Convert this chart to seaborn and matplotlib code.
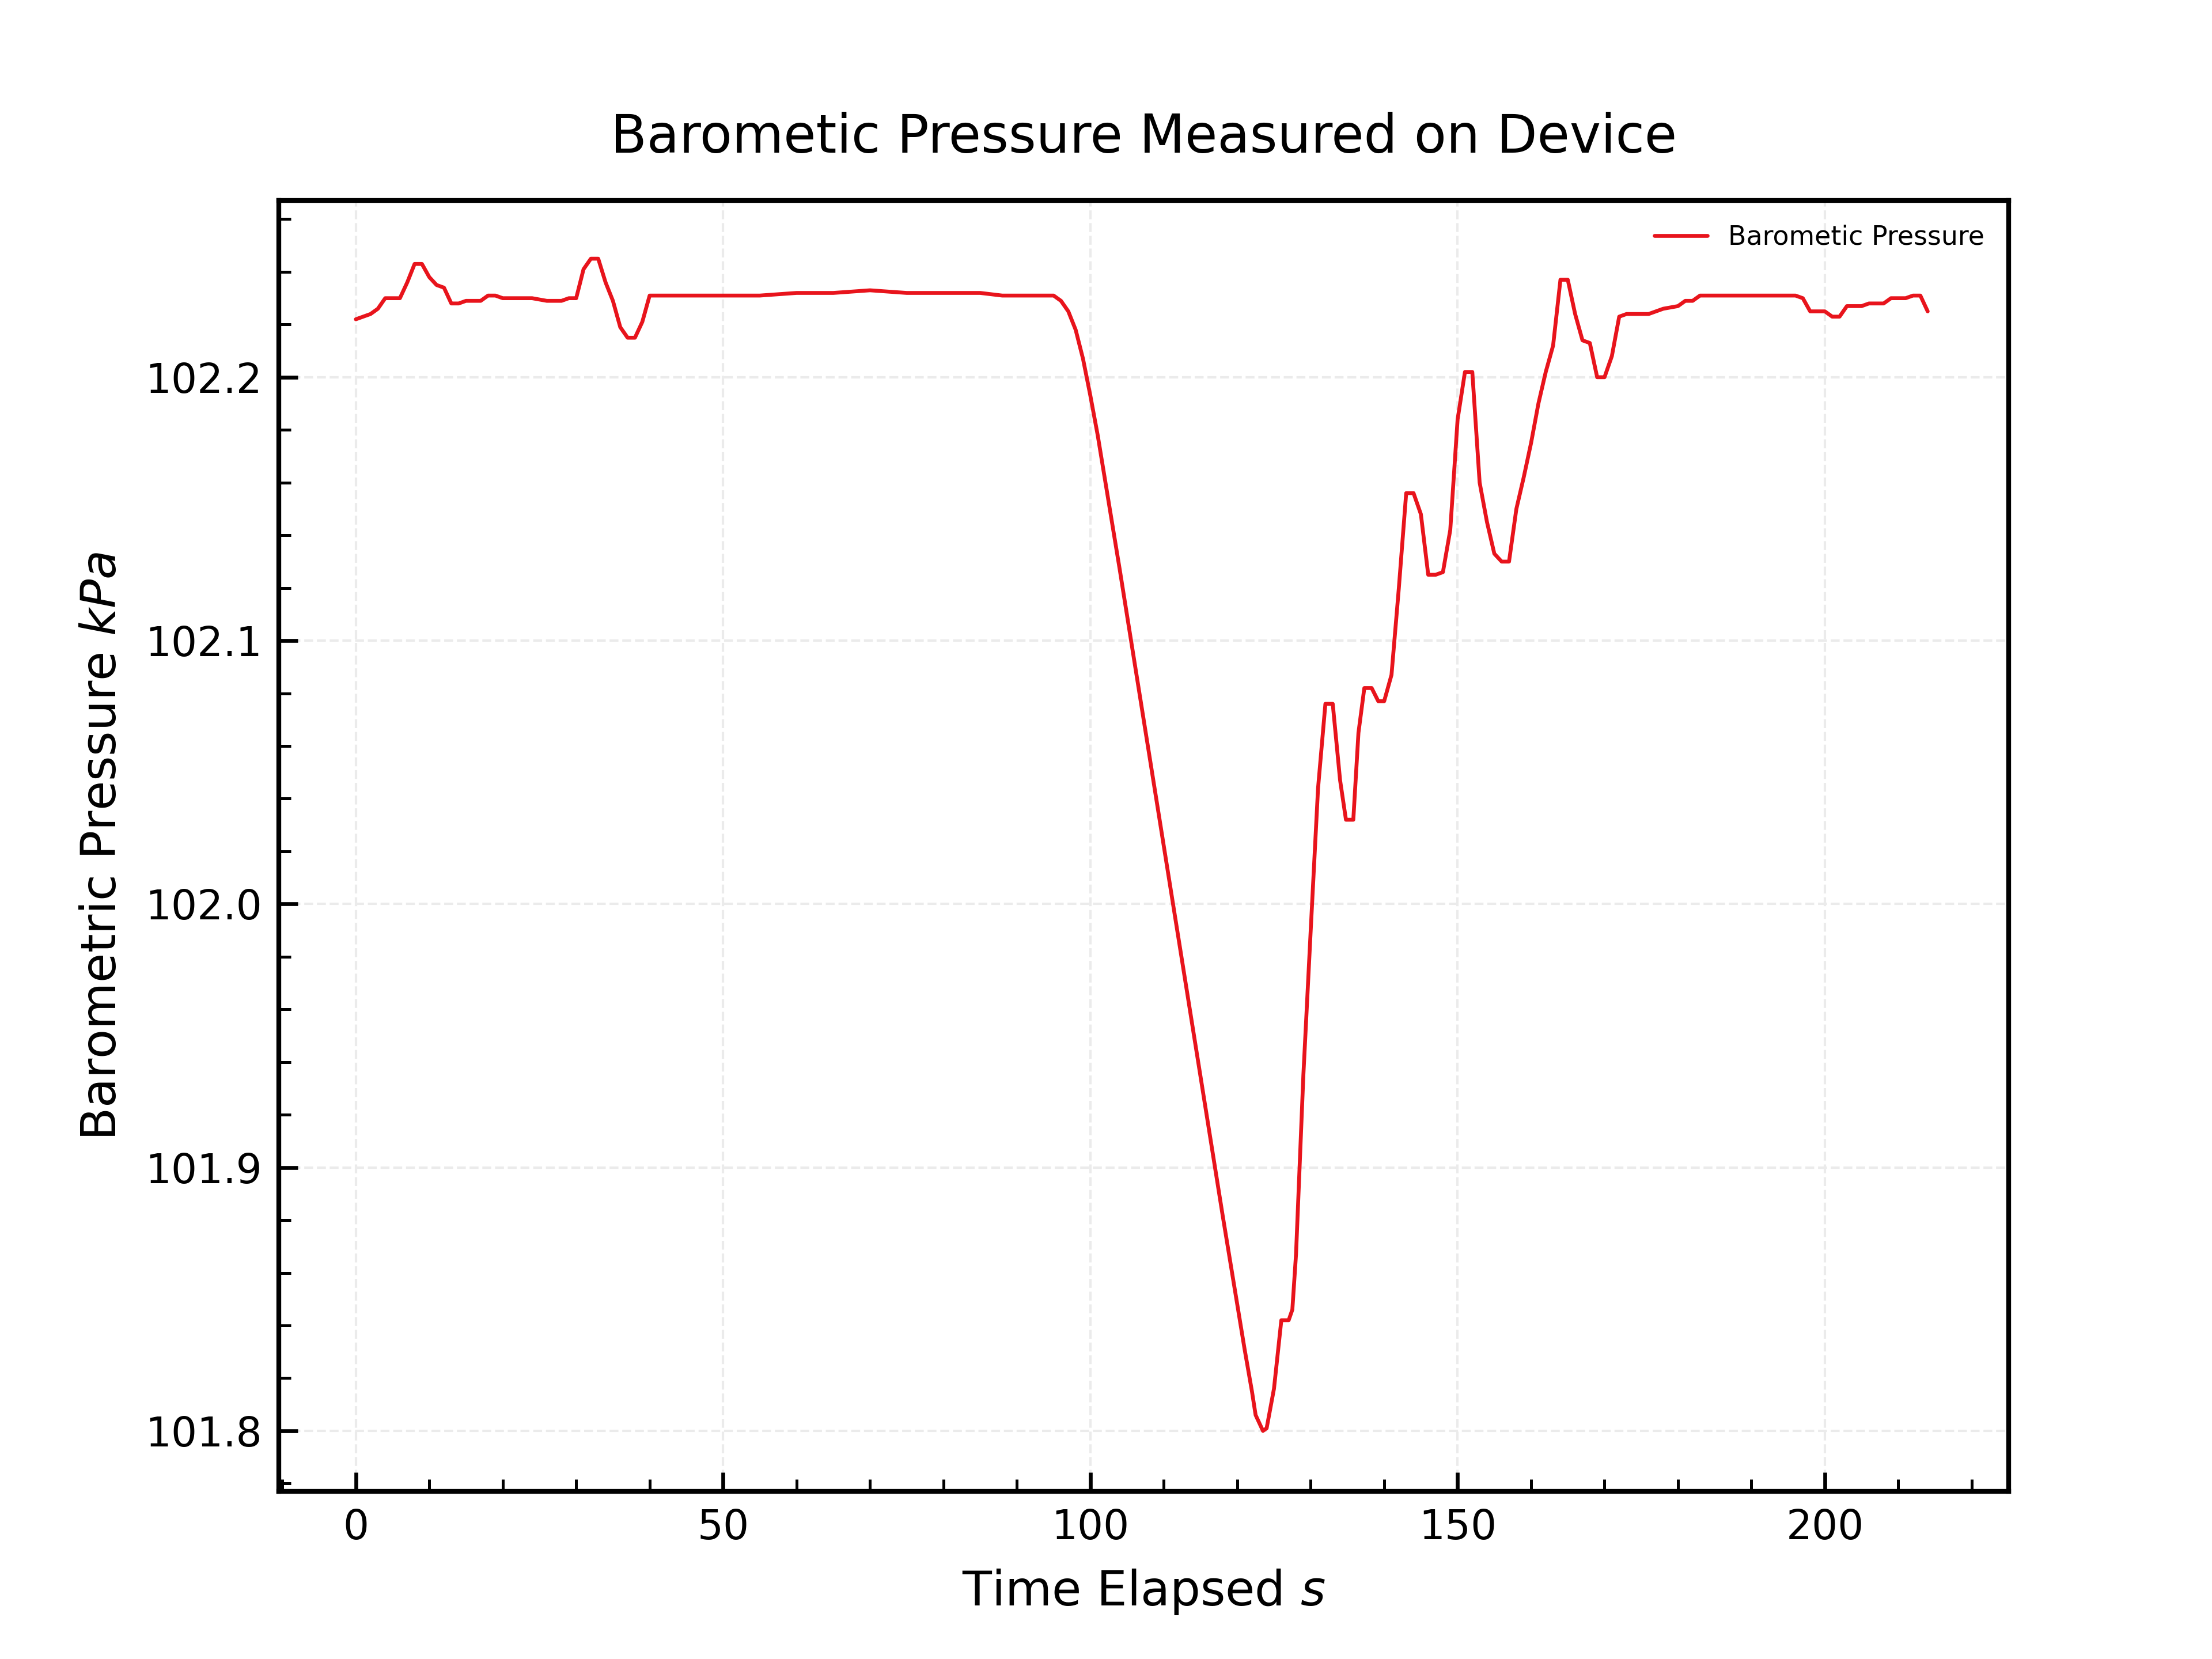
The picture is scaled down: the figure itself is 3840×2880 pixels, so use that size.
import matplotlib
matplotlib.use("Agg")
import matplotlib.pyplot as plt
import seaborn as sns
import pandas as pd
from matplotlib.ticker import MultipleLocator

# values
time_s = [0, 2, 3, 4, 6, 7, 8, 9, 10, 11, 12, 13, 14, 15, 17, 18, 19, 20, 22, 24, 26, 28, 29, 30,
          31, 32, 33, 34, 35, 36, 37, 38, 39, 40, 45, 50, 55, 60, 65, 70, 75, 80, 85, 88, 92,
          95, 96, 97, 98, 99, 100, 101, 102, 104, 106, 108, 110, 112, 114, 116, 118, 119, 120,
          121, 122, 122.5, 123.5, 124, 125, 126, 127, 127.5, 128, 129, 130, 131, 132, 133, 134,
          134.8, 135.8, 136.5, 137.3, 138.3, 139.2, 140, 141, 142, 143, 144, 145, 146, 147, 148,
          149, 150, 151, 152, 153, 154, 155, 156, 157, 158, 159, 160, 161, 162, 163, 164, 165,
          166, 167, 168, 169, 170, 171, 172, 173, 176, 178, 180, 181, 182, 183, 186, 190, 196,
          197, 198, 200, 201, 202, 203, 205, 206, 208, 209, 211, 212, 213, 214]
pressure_kpa = [102.222, 102.224, 102.226, 102.230, 102.230, 102.236, 102.243, 102.243, 102.238,
                102.235, 102.234, 102.228, 102.228, 102.229, 102.229, 102.231, 102.231, 102.230,
                102.230, 102.230, 102.229, 102.229, 102.230, 102.230, 102.241, 102.245, 102.245,
                102.236, 102.229, 102.219, 102.215, 102.215, 102.221, 102.231, 102.231, 102.231,
                102.231, 102.232, 102.232, 102.233, 102.232, 102.232, 102.232, 102.231, 102.231,
                102.231, 102.229, 102.225, 102.218, 102.207, 102.193, 102.178, 102.161, 102.127,
                102.092, 102.057, 102.022, 101.987, 101.952, 101.917, 101.882, 101.865, 101.848,
                101.831, 101.815, 101.806, 101.800, 101.801, 101.816, 101.842, 101.842, 101.846,
                101.867, 101.935, 101.990, 102.044, 102.076, 102.076, 102.047, 102.032, 102.032,
                102.065, 102.082, 102.082, 102.077, 102.077, 102.087, 102.120, 102.156, 102.156,
                102.148, 102.125, 102.125, 102.126, 102.142, 102.184, 102.202, 102.202, 102.160,
                102.145, 102.133, 102.130, 102.130, 102.150, 102.162, 102.175, 102.190, 102.202,
                102.212, 102.237, 102.237, 102.224, 102.214, 102.213, 102.200, 102.200, 102.208,
                102.223, 102.224, 102.224, 102.226, 102.227, 102.229, 102.229, 102.231, 102.231,
                102.231, 102.231, 102.230, 102.225, 102.225, 102.223, 102.223, 102.227, 102.227,
                102.228, 102.228, 102.230, 102.230, 102.231, 102.231, 102.225]

df = pd.DataFrame({"t": time_s, "p": pressure_kpa})

sns.set_style("ticks")
plt.rcParams['font.family'] = ['DejaVu Sans']
plt.rcParams['text.color'] = 'black'
plt.rcParams['axes.labelcolor'] = 'black'
plt.rcParams['xtick.color'] = 'black'
plt.rcParams['ytick.color'] = 'black'
plt.rcParams['axes.edgecolor'] = 'black'
fig, ax = plt.subplots(figsize=(6.4, 4.8), dpi=600)
fig.subplots_adjust(left=0.126, right=0.908, bottom=0.101, top=0.879)

sns.lineplot(data=df, x="t", y="p", ax=ax, color="#e8141c", linewidth=0.8,
             label="Barometic Pressure")

ax.set_xlim(-10.5, 225)
ax.set_ylim(101.777, 102.267)
ax.xaxis.set_major_locator(MultipleLocator(50))
ax.xaxis.set_minor_locator(MultipleLocator(10))
ax.yaxis.set_major_locator(MultipleLocator(0.1))
ax.yaxis.set_minor_locator(MultipleLocator(0.02))
ax.tick_params(which="both", direction="in", labelsize=8.5)
ax.tick_params(which="major", length=4, width=0.8)
ax.tick_params(which="minor", length=2.5, width=0.6)
for s in ax.spines.values():
    s.set_visible(True)
    s.set_linewidth(1.0)
ax.grid(True, linestyle="--", color="#ebebeb", linewidth=0.5)

ax.set_title("Barometic Pressure Measured on Device", fontsize=11, pad=10)
ax.set_xlabel("Time Elapsed $s$", fontsize=10)
ax.set_ylabel("Barometric Pressure $kPa$", fontsize=10)
ax.legend(loc="upper right", frameon=False, fontsize=5.5)

fig.savefig("out.png", dpi=600)
